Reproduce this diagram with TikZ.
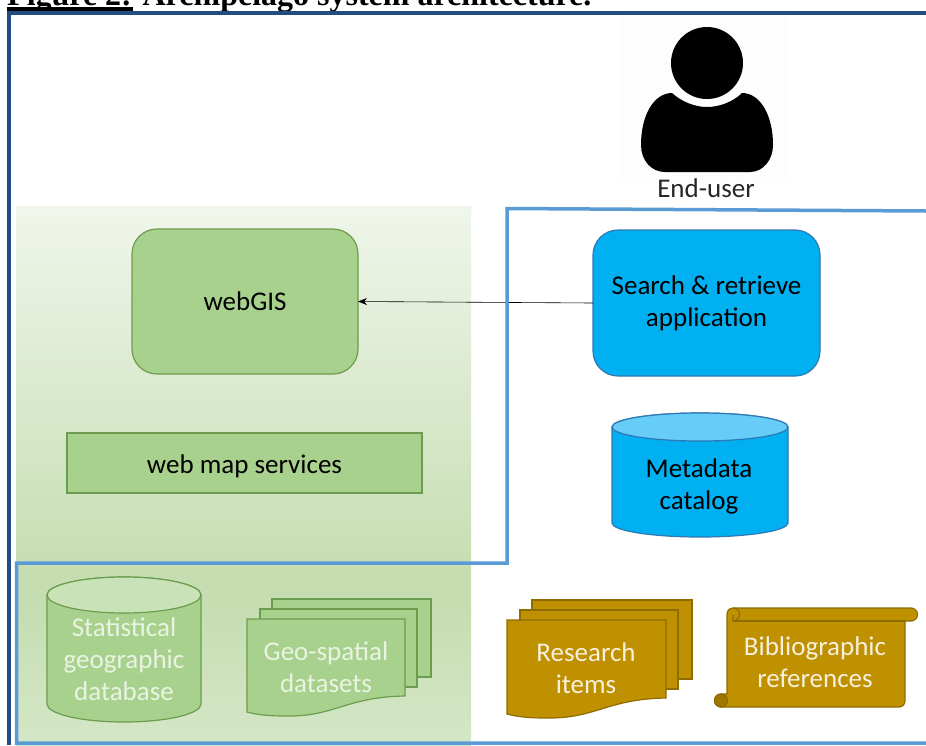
\documentclass[tikz,border=0pt]{standalone}
\usetikzlibrary{arrows.meta}
\usepackage{fontspec}
\setmainfont{Carlito}
\newfontfamily\titlefont{Liberation Serif}
\definecolor{frameblue}{HTML}{1F4E82}
\definecolor{lineblue}{HTML}{5B9BD5}
\definecolor{gfill}{HTML}{A9D18E}
\definecolor{gline}{HTML}{6C9C4E}
\definecolor{gtop}{HTML}{C9E2B8}
\definecolor{gtext}{HTML}{E9F3E2}
\definecolor{bfill}{HTML}{00B0F0}
\definecolor{bline}{HTML}{2F78B5}
\definecolor{btop}{HTML}{66CDF8}
\definecolor{ofill}{HTML}{BF9000}
\definecolor{oline}{HTML}{8F6C00}
\definecolor{otext}{HTML}{F7F0DC}
\definecolor{paper}{HTML}{FDFDFD}
\definecolor{panelA}{HTML}{F0F6EB}
\definecolor{panelB}{HTML}{C4DCAF}
\definecolor{panelC}{HTML}{D4E7C7}
\tikzset{
  x=1pt,y=-1pt,
  txt/.style={align=center,font=\fontsize{27}{32}\selectfont,inner sep=0pt,outer sep=0pt},
  greenshape/.style={draw=gline,fill=gfill,line width=1.2pt},
  blueshape/.style={draw=bline,fill=bfill,line width=1.2pt},
  brownshape/.style={draw=oline,fill=ofill,line width=1.2pt},
}
\newcommand{\docsheet}[6]{% style, x0,x1,top,yright,yleft
  \draw[#1] (#2,#4) -- (#3,#4) -- (#3,#5) .. controls ({#3-60},{#5+1}) and ({#3-70},{#5+21}) .. ({#2+38},{#5+20}) .. controls ({#2+23},{#5+20}) and ({#2+11},{#5+19}) .. (#2,#6) -- cycle;}
\begin{document}
\begin{tikzpicture}
\clip (0,0) rectangle (926,745);
\fill[white] (0,0) rectangle (926,745);
% title
\node[anchor=base west,inner sep=0pt,font=\titlefont\bfseries\fontsize{32}{34}\selectfont] (title) at (7,5) {Figure 2: Archipelago system architecture.};
\fill[black] (7,7) rectangle (133,12);
% frame
\draw[frameblue,line width=4pt] (926,13) -- (9,13) -- (9,745);
% person
\fill[paper] (622,15) rectangle (790,183);
\fill[black] (707,63) circle[radius=36pt];
\fill[black] (672,93) .. controls (682,102) and (695,107) .. (707,107) .. controls (719,107) and (733,102) .. (742,93) .. controls (760,93) and (773,115) .. (773,145) .. controls (773,160) and (763,172) .. (750,172) -- (665,172) .. controls (651,172) and (641,160) .. (641,145) .. controls (641,115) and (654,93) .. (672,93) -- cycle;
\node[txt,text=black!85] (enduser) at (706,188) {End-user};
% green panel
\shade[top color=panelA,bottom color=panelB] (16,206) rectangle (471,590);
\shade[top color=panelB,bottom color=panelC] (16,590) rectangle (471,745);
% webGIS and services
\node[greenshape,rounded corners=25pt,minimum width=226pt,minimum height=145pt,txt,draw=gline,text=black] (webgis) at (245,301.5) {webGIS};
\node[greenshape,minimum width=355pt,minimum height=60pt,txt,text=black,text depth=0pt,yshift=0pt] (wms) at (244.5,463) {\raisebox{-3pt}{web map services}};
% search app
\node[blueshape,rounded corners=25pt,minimum width=227pt,minimum height=146pt,txt,text=black] (search) at (706.5,303) {\raisebox{-3pt}{Search \& retrieve}\\\raisebox{-3pt}{application}};
\draw[-{Stealth[length=9pt,width=7pt]},black,line width=0.6pt] (search.west) -- (webgis.east);
% metadata cylinder
\draw[blueshape] (612,427) -- (612,523) arc[start angle=180,end angle=360,x radius=88pt,y radius=14pt] -- (788,427) arc[start angle=0,end angle=180,x radius=88pt,y radius=14pt] -- cycle;
\draw[blueshape,fill=btop] (700,427) ellipse[x radius=88pt,y radius=14pt];
\node[txt,text=black] (metadata) at (699,486) {Metadata\\catalog};
% blue outline
\draw[lineblue,line width=3.5pt,line join=miter] (926,211) -- (507,208.5) -- (507,563) -- (16.5,563) -- (16.5,743) -- (926,743);
% statistical cylinder
\draw[greenshape] (47,595) -- (47,704) arc[start angle=180,end angle=360,x radius=77pt,y radius=18pt] -- (201,595) arc[start angle=0,end angle=180,x radius=77pt,y radius=18pt] -- cycle;
\draw[greenshape,fill=gtop] (124,595) ellipse[x radius=77pt,y radius=18pt];
\node[txt,text=gtext] (stat) at (124,659) {Statistical\\geographic\\database};
% geo-spatial docs
\draw[greenshape] (272,599) rectangle (431,677);
\draw[greenshape] (260,609) rectangle (417,687);
\docsheet{greenshape}{247}{405}{619}{696}{712}
\node[txt,text=gtext] (geo) at (326,667) {Geo-spatial\\datasets};
% research docs
\draw[brownshape] (532,600) rectangle (692,679);
\draw[brownshape] (520,610) rectangle (678,689);
\docsheet{brownshape}{507}{666}{620}{698}{714}
\node[txt,text=otext] (research) at (586,668) {Research\\items};
% scroll
\draw[brownshape] (727,614) arc[start angle=180,end angle=90,radius=6pt] -- (911,608) arc[start angle=90,end angle=-90,radius=6.5pt] -- (905,621) -- (905,701) arc[start angle=0,end angle=-90,radius=6pt] -- (721,707) arc[start angle=-90,end angle=-270,radius=6.5pt] -- (727,694) -- cycle;
\draw[brownshape] (733,621) -- (905,621);
\draw[brownshape] (733,608) arc[start angle=90,end angle=-90,radius=6.5pt] -- (733,615) ;
\draw[brownshape,fill=oline!70!ofill] (721,700.5) circle[radius=6.5pt];
\node[txt,text=otext] (biblio) at (815,662) {Bibliographic\\references};
\end{tikzpicture}
\end{document}
